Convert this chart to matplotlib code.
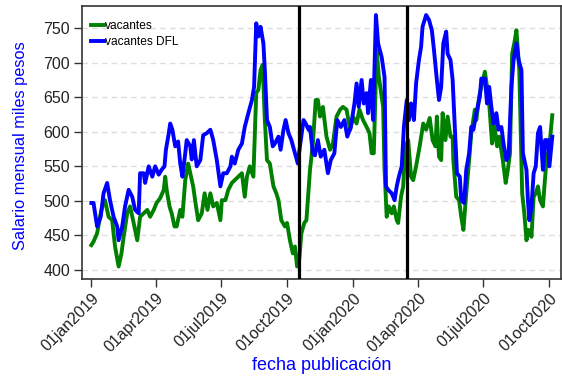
import matplotlib
matplotlib.use("Agg")
import matplotlib.pyplot as plt
import numpy as np
import pandas as pd

plt.rcParams['font.family'] = ['Liberation Sans', 'DejaVu Sans']

# Días desde 01jan2019 y salario promedio (miles de pesos)
dias_dfl = [0, 3, 8, 13, 17, 22, 26, 31, 36, 38, 43, 47, 52, 57, 61, 66, 68, 73, 75, 80,
            85, 89, 94, 98, 102, 104, 108, 110, 113, 117, 121, 124, 127, 131, 133, 138, 140, 143, 147, 152,
            156, 161, 166, 170, 175, 180, 184, 189, 194, 196, 200, 205, 210, 214, 219, 224, 227, 230, 233, 236,
            240, 242, 245, 249, 253, 256, 261, 264, 268, 271, 275, 279, 284, 288, 291, 296, 299, 303, 305, 309,
            312, 316, 320, 325, 330, 334, 339, 343, 348, 353, 357, 362, 367, 370, 373, 377, 380, 384, 386, 390,
            393, 397, 400, 405, 409, 411, 414, 419, 423, 426, 429, 433, 436, 440, 443, 446, 450, 453, 457, 460,
            462, 467, 471, 475, 478, 482, 485, 488, 491, 495, 497, 501, 504, 507, 510, 514, 516, 520, 523, 527,
            530, 533, 537, 542, 544, 549, 552, 555, 558, 561, 565, 568, 572, 575, 579, 582, 586, 589, 593, 596,
            600, 602, 607, 609, 611, 614, 617, 620, 623, 626, 630, 633, 637, 639, 643]
vacantes_dfl = [497, 497, 463, 477, 511, 526, 501, 477, 463, 443, 463, 492, 516, 506, 487, 482, 540, 540, 526, 550,
                535, 550, 538, 545, 550, 574, 598, 612, 603, 579, 586, 554, 535, 569, 588, 579, 560, 588, 550, 559,
                595, 598, 603, 588, 559, 521, 540, 540, 550, 564, 554, 574, 583, 607, 627, 646, 665, 757, 738, 752,
                728, 689, 617, 607, 579, 583, 593, 574, 603, 617, 598, 588, 569, 554, 579, 617, 612, 603, 607, 569,
                566, 588, 564, 574, 540, 559, 569, 617, 607, 617, 593, 607, 641, 670, 636, 675, 641, 656, 627, 675,
                617, 769, 728, 708, 679, 521, 516, 511, 501, 521, 535, 550, 607, 646, 617, 641, 617, 670, 704, 723,
                752, 769, 762, 747, 718, 675, 646, 665, 728, 745, 713, 704, 675, 607, 540, 535, 501, 497, 545, 569,
                607, 603, 627, 651, 677, 677, 641, 665, 636, 612, 627, 603, 607, 583, 559, 564, 665, 704, 728, 704,
                689, 569, 545, 501, 472, 492, 540, 550, 598, 607, 545, 588, 588, 550, 593]

dias_vac = [0, 3, 8, 13, 17, 19, 24, 29, 33, 38, 42, 45, 50, 54, 59, 64, 68, 73, 78, 82,
            87, 91, 96, 101, 103, 105, 109, 112, 116, 119, 124, 127, 131, 135, 139, 142, 146, 149, 154, 158,
            162, 166, 170, 175, 180, 182, 187, 191, 196, 200, 205, 210, 214, 217, 221, 226, 230, 233, 236, 239,
            242, 245, 249, 254, 258, 261, 265, 270, 273, 277, 281, 284, 287, 290, 293, 297, 300, 305, 309, 313,
            316, 319, 323, 328, 333, 337, 342, 347, 351, 356, 361, 365, 370, 374, 379, 384, 388, 391, 394, 398,
            401, 405, 407, 409, 412, 415, 419, 422, 426, 428, 432, 435, 438, 442, 446, 449, 453, 458, 463, 467,
            472, 476, 480, 482, 485, 488, 490, 494, 497, 501, 504, 505, 509, 513, 516, 519, 523, 527, 530, 535,
            537, 541, 544, 549, 552, 555, 559, 562, 566, 569, 574, 578, 581, 584, 587, 590, 593, 597, 601, 604,
            607, 610, 614, 617, 620, 623, 626, 630, 632, 635, 639, 643]
vacantes = [436, 441, 453, 482, 499, 501, 477, 472, 434, 405, 424, 448, 482, 492, 468, 443, 477, 482, 487, 477,
            487, 497, 504, 516, 535, 516, 492, 482, 463, 463, 487, 477, 530, 554, 535, 521, 492, 472, 482, 511,
            487, 511, 492, 497, 472, 501, 501, 516, 526, 530, 535, 540, 506, 535, 550, 535, 656, 661, 689, 697,
            617, 559, 554, 521, 511, 501, 472, 463, 468, 443, 424, 434, 405, 415, 453, 468, 472, 545, 583, 646,
            646, 622, 636, 593, 574, 583, 622, 632, 636, 632, 603, 622, 612, 632, 617, 607, 598, 569, 569, 718,
            680, 651, 636, 545, 477, 492, 482, 492, 472, 468, 506, 521, 579, 588, 535, 530, 550, 579, 612, 603,
            620, 588, 579, 622, 564, 559, 627, 588, 622, 593, 593, 559, 506, 501, 477, 458, 511, 559, 598, 632,
            617, 651, 665, 687, 665, 641, 583, 612, 579, 593, 559, 526, 545, 569, 713, 728, 747, 689, 511, 482,
            443, 458, 448, 506, 511, 521, 501, 492, 521, 559, 579, 624]

# Estallido social y confinamiento
eventos = ["2019-10-18", "2020-03-16"]

xticks = ["2019-01-01", "2019-04-01", "2019-07-01", "2019-10-01",
          "2020-01-01", "2020-04-01", "2020-07-01", "2020-10-01"]
xticklabels = ["01jan2019", "01apr2019", "01jul2019", "01oct2019",
               "01jan2020", "01apr2020", "01jul2020", "01oct2020"]
yticks = [400, 450, 500, 550, 600, 650, 700, 750]

inicio = pd.Timestamp("2019-01-01")
fechas_vac = inicio + pd.to_timedelta(dias_vac, unit="D")
fechas_dfl = inicio + pd.to_timedelta(dias_dfl, unit="D")

fig = plt.figure(figsize=(5.62, 3.79), dpi=100)
ax = fig.add_axes([0.146, 0.264, 0.852, 0.72])

ax.plot(fechas_vac, vacantes, color="#008000", lw=2.8, label="vacantes", zorder=3,
        solid_joinstyle="round")
ax.plot(fechas_dfl, vacantes_dfl, color="#0000FF", lw=2.8, label="vacantes DFL", zorder=4,
        solid_joinstyle="round")

for e in eventos:
    ax.axvline(pd.Timestamp(e), color="black", lw=2.3, zorder=5)

ax.set_xlim(pd.Timestamp("2018-12-19"), pd.Timestamp("2020-10-17"))
ax.set_ylim(387, 782)

ax.set_yticks(yticks)
ax.set_yticklabels([str(v) for v in yticks], fontsize=11.5, color="#222222")
ax.set_xticks([pd.Timestamp(t) for t in xticks])
ax.set_xticklabels(xticklabels, rotation=45, ha="right", rotation_mode="anchor",
                   fontsize=11.5, color="#222222")
ax.tick_params(axis="both", direction="out", length=5.5, width=1, color="#333333", pad=3)

ax.yaxis.grid(True, color="#dddddd", linestyle=(0, (4, 3)), lw=1)
ax.set_axisbelow(True)
for s in ax.spines.values():
    s.set_color("#333333")
    s.set_linewidth(1.2)

ax.set_ylabel("Salario mensual miles pesos", color="#0000FF", fontsize=11.8)
ax.yaxis.set_label_coords(-0.112, 0.49)
ax.set_xlabel("fecha publicación", color="#0000FF", fontsize=13)
ax.xaxis.set_label_coords(0.5, -0.285)

leg = ax.legend(loc="upper left", frameon=False, fontsize=8.6, handlelength=1.1,
                handletextpad=0.05, labelspacing=0.35, borderaxespad=0, borderpad=0,
                bbox_to_anchor=(0.019, 0.948))

fig.savefig("out.png", dpi=100)
